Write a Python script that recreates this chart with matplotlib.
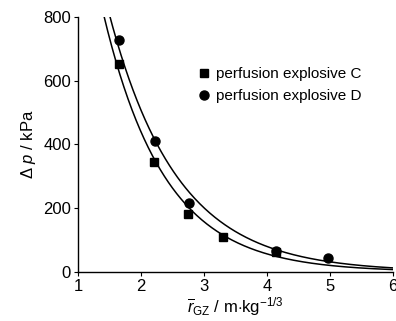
import numpy as np
import matplotlib.pyplot as plt

plt.rcParams['font.family'] = ['Liberation Sans', 'DejaVu Sans']
plt.rcParams['mathtext.fontset'] = 'custom'
plt.rcParams['mathtext.rm'] = 'Liberation Sans'
plt.rcParams['mathtext.it'] = 'Liberation Sans:italic'

r_c = [1.65, 2.20, 2.75, 3.30, 4.15]
p_c = [652, 345, 183, 110, 62]
r_d = [1.65, 2.22, 2.77, 4.15, 4.97]
p_d = [727, 410, 215, 65, 45]

label_c = "perfusion explosive C"
label_d = "perfusion explosive D"


def exp_fit(x, y):
	# fit dp = a * exp(-k r) in log space, weighted towards the big values
	y = np.asarray(y, dtype=float)
	k, lna = np.polyfit(x, np.log(y), 1, w=np.sqrt(y))
	return k, np.exp(lna)


fig = plt.figure(figsize=(3.96, 3.21), dpi=100)
ax = fig.add_axes([0.197, 0.153, 0.795, 0.794])

rr = np.linspace(1.2, 6.0, 300)
k, a = exp_fit(r_c, p_c)
ax.plot(rr, a * np.exp(k * rr), color='black', lw=1.1)
k, a = exp_fit(r_d, p_d)
ax.plot(rr, a * np.exp(k * rr), color='black', lw=1.1)

ax.plot(r_c, p_c, 's', color='black', ms=5.5, label=label_c)
ax.plot(r_d, p_d, 'o', color='black', ms=6.5, label=label_d)

ax.set_xlim(1, 6)
ax.set_ylim(0, 800)
ax.set_xticks([1, 2, 3, 4, 5, 6])
ax.set_yticks([0, 200, 400, 600, 800])
for s in ['top', 'right']:
	ax.spines[s].set_visible(False)
ax.spines['left'].set_linewidth(1.0)
ax.spines['bottom'].set_linewidth(1.0)
ax.tick_params(axis='both', labelsize=12, length=3, width=0.8, pad=2)

ax.set_xlabel(r'$\overline{r}_{\mathrm{GZ}}$ / m$\cdot$kg$^{-1/3}$', fontsize=12, labelpad=1)
ax.set_ylabel(r'$\Delta$ $p$ / kPa', fontsize=12, labelpad=4)

ax.legend(loc='upper left', bbox_to_anchor=(0.355, 0.828), frameon=False,
	fontsize=11, handlelength=1.0, handletextpad=0.3, labelspacing=0.55,
	borderaxespad=0)

fig.savefig("out.png", dpi=100)
